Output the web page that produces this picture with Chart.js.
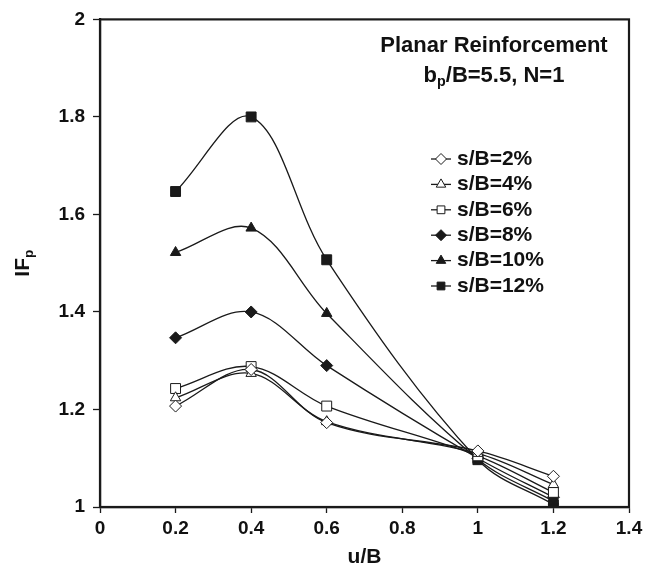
<!DOCTYPE html>
<html>
<head>
<meta charset="utf-8">
<script src="https://cdn.jsdelivr.net/npm/chart.js@4.4.0/dist/chart.umd.min.js"></script>
<style>
  html, body { margin: 0; padding: 0; background: #fff; }
  #canvas { display: block; }
</style>
</head>
<body>
<canvas id="canvas" width="653" height="577"></canvas>
<script>
const ctx = document.getElementById('canvas');

// u/B positions
const uB = [0.2, 0.4, 0.6, 1.0, 1.2];

// IFp values for each s/B
const sB2 = [1.207, 1.282, 1.173, 1.115, 1.063];
const sB4 = [1.224, 1.274, 1.175, 1.110, 1.046];
const sB6 = [1.243, 1.288, 1.207, 1.105, 1.030];
const sB8 = [1.347, 1.400, 1.290, 1.100, 1.020];
const sB10 = [1.522, 1.572, 1.397, 1.098, 1.012];
const sB12 = [1.647, 1.800, 1.507, 1.097, 1.005];

const seriesNames = ['s/B=2%', 's/B=4%', 's/B=6%', 's/B=8%', 's/B=10%', 's/B=12%'];
const yTicks = [1, 1.2, 1.4, 1.6, 1.8, 2];
const xTicks = [0, 0.2, 0.4, 0.6, 0.8, 1, 1.2, 1.4];

const FONT = '"Liberation Sans", Arial, sans-serif';

function pts(vals) {
    return vals.map((v, i) => ({ x: uB[i], y: v }));
}

function series(label, vals, shape, filled) {
    return {
        label: label,
        data: pts(vals),
        borderColor: '#1a1a1a',
        borderWidth: 1.3,
        backgroundColor: filled ? '#1a1a1a' : '#ffffff',
        pointStyle: shape,
        pointRadius: shape === 'rect' ? 7 : 6,
        pointBorderColor: '#1a1a1a',
        pointBorderWidth: 1,
        pointBackgroundColor: filled ? '#1a1a1a' : '#ffffff',
        tension: 0.35,
        fill: false,
    };
}

const data = {
    datasets: [
        series(seriesNames[0], sB2, 'rectRot', false),
        series(seriesNames[1], sB4, 'triangle', false),
        series(seriesNames[2], sB6, 'rect', false),
        series(seriesNames[3], sB8, 'rectRot', true),
        series(seriesNames[4], sB10, 'triangle', true),
        series(seriesNames[5], sB12, 'rect', true),
    ]
};

function marker(c, shape, x, y, r, filled) {
    c.save();
    c.beginPath();
    if (shape === 'rectRot') {
        c.moveTo(x, y - r); c.lineTo(x + r, y); c.lineTo(x, y + r); c.lineTo(x - r, y);
    } else if (shape === 'triangle') {
        c.moveTo(x, y - r); c.lineTo(x + r * 0.866, y + r * 0.5); c.lineTo(x - r * 0.866, y + r * 0.5);
    } else {
        const s = r * Math.SQRT1_2;
        c.rect(x - s, y - s, 2 * s, 2 * s);
    }
    c.closePath();
    c.fillStyle = filled ? '#1a1a1a' : '#ffffff';
    c.fill();
    c.lineWidth = 1;
    c.strokeStyle = '#1a1a1a';
    c.stroke();
    c.restore();
}

// text with a subscript "p" piece, centred on x
function subText(c, parts, x, y, size) {
    let w = 0;
    parts.forEach(p => {
        c.font = 'bold ' + (p[1] ? size * 0.65 : size) + 'px ' + FONT;
        w += c.measureText(p[0]).width;
    });
    let cx = x - w / 2;
    parts.forEach(p => {
        c.font = 'bold ' + (p[1] ? size * 0.65 : size) + 'px ' + FONT;
        c.fillText(p[0], cx, p[1] ? y + size * 0.28 : y);
        cx += c.measureText(p[0]).width;
    });
}

const decorations = {
    id: 'decorations',
    afterDraw(chart) {
        const c = chart.ctx;
        const a = chart.chartArea;
        c.save();
        // box frame
        c.strokeStyle = '#1a1a1a';
        c.lineWidth = 2.2;
        c.strokeRect(a.left, a.top, a.right - a.left, a.bottom - a.top);

        c.fillStyle = '#111';
        c.textBaseline = 'middle';
        c.textAlign = 'left';

        // axis titles
        subText(c, [['u/B', false]], (a.left + a.right) / 2, 557, 21);
        c.save();
        c.translate(23, (a.top + a.bottom) / 2);
        c.rotate(-Math.PI / 2);
        subText(c, [['IF', false], ['p', true]], 0, 0, 21);
        c.restore();

        // annotation text
        subText(c, [['Planar Reinforcement', false]], 494, 46, 22);
        subText(c, [['b', false], ['p', true], ['/B=5.5, N=1', false]], 494, 76, 22);

        // legend
        chart.data.datasets.forEach((ds, i) => {
            const y = 159 + i * 25.4;
            c.strokeStyle = '#1a1a1a';
            c.lineWidth = 1.3;
            c.beginPath();
            c.moveTo(431, y);
            c.lineTo(451, y);
            c.stroke();
            marker(c, ds.pointStyle, 441, y, 5.5, ds.pointBackgroundColor !== '#ffffff');
            c.fillStyle = '#111';
            c.font = 'bold 21px ' + FONT;
            c.fillText(ds.label, 457, y);
        });
        c.restore();
    }
};

new Chart(ctx, {
    type: 'line',
    data: data,
    plugins: [decorations],
    options: {
        responsive: false,
        animation: false,
        layout: { padding: { top: 16, right: 24, left: 0, bottom: 0 } },
        plugins: {
            legend: { display: false },
            tooltip: { enabled: false },
        },
        scales: {
            x: {
                type: 'linear',
                min: 0,
                max: 1.4,
                afterBuildTicks: (s) => { s.ticks = xTicks.map(v => ({ value: v })); },
                afterFit: (s) => { s.height = 70; },
                border: { display: true, color: '#1a1a1a', width: 2.2 },
                grid: { drawOnChartArea: false, drawTicks: true, tickLength: 6, color: '#1a1a1a', tickWidth: 1.3 },
                ticks: {
                    color: '#111',
                    padding: 4,
                    maxRotation: 0,
                    font: { family: FONT, size: 19, weight: 'bold' },
                    callback: (v) => String(Number(v.toFixed(1))),
                },
            },
            y: {
                min: 1,
                max: 2,
                afterBuildTicks: (s) => { s.ticks = yTicks.map(v => ({ value: v })); },
                afterFit: (s) => { s.width = 100; },
                border: { display: true, color: '#1a1a1a', width: 2.2 },
                grid: { drawOnChartArea: false, drawTicks: true, tickLength: 7, color: '#1a1a1a', tickWidth: 1.3 },
                ticks: {
                    color: '#111',
                    padding: 8,
                    font: { family: FONT, size: 19, weight: 'bold' },
                    callback: (v) => String(Number(v.toFixed(1))),
                },
            },
        },
    },
});
</script>
</body>
</html>
